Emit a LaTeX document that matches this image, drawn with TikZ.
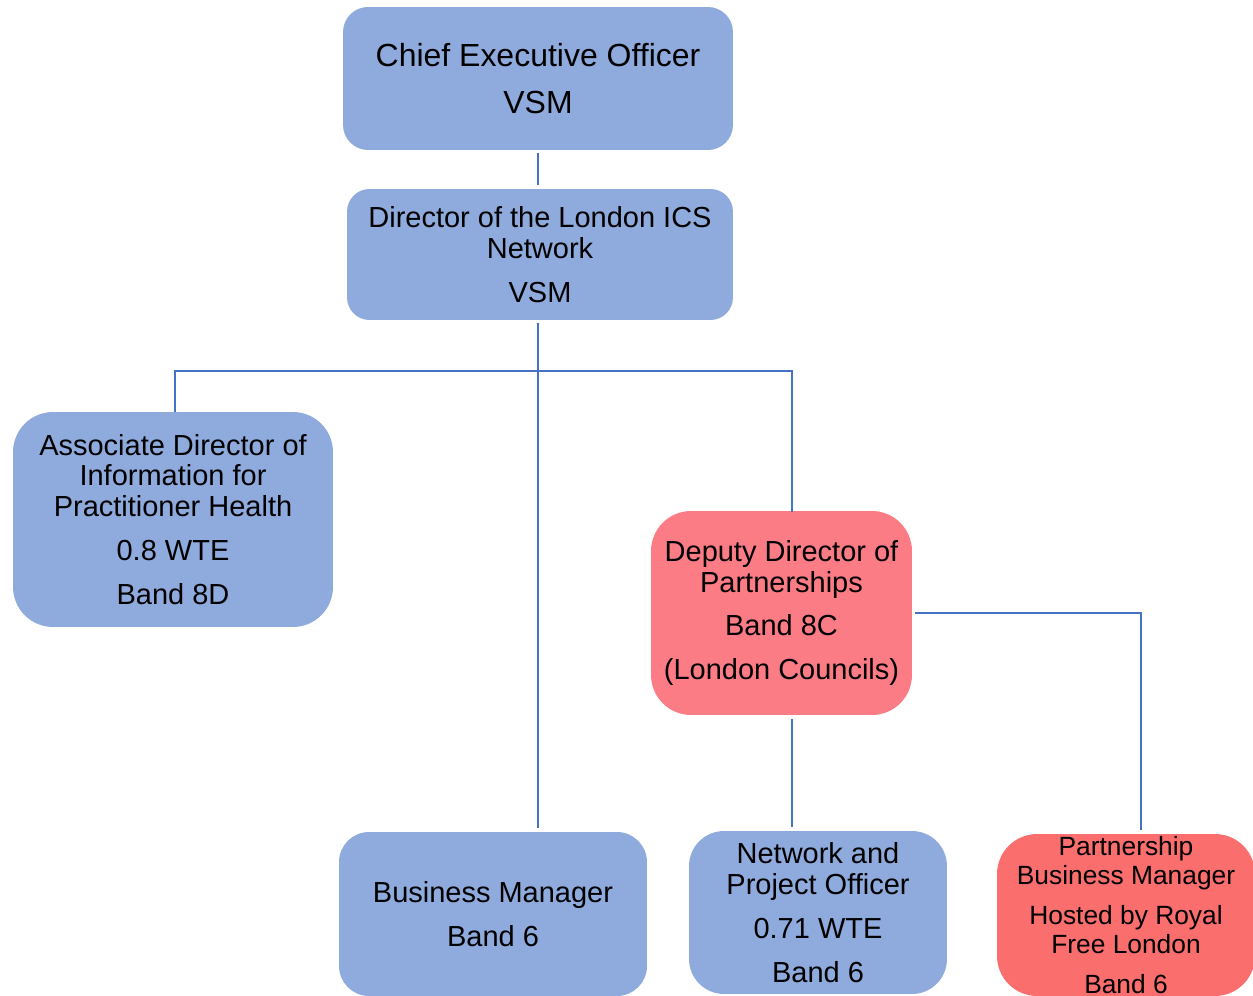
\documentclass[tikz,border=0pt]{standalone}
\usepackage{fontspec}
\setmainfont{Liberation Sans}
\definecolor{boxblue}{HTML}{8FAADC}
\definecolor{boxpink}{HTML}{FC7C86}
\definecolor{boxred}{HTML}{FA6E6E}
\definecolor{lineblue}{HTML}{4472C4}
\begin{document}
\begin{tikzpicture}[x=0.02cm,y=-0.02cm,
  box/.style={draw=none, align=center, inner sep=0pt, text=black,
    font=\fontsize{16.5}{17.6}\selectfont},
  bluebox/.style={box, fill=boxblue},
  link/.style={draw=lineblue, line width=0.6pt},
  trunk/.style={draw=lineblue, line width=1.1pt}]
\useasboundingbox (0,0) rectangle (1253,996);
\begin{scope}
\clip (0,0) rectangle (1253,996);
\node[bluebox, minimum width=7.8cm, minimum height=2.86cm, rounded corners=0.5cm,
  font=\fontsize{18.2}{19.5}\selectfont] (ceo) at (538,78.5)
  {Chief Executive Officer\\[7.2pt]VSM};
\node[bluebox, minimum width=7.72cm, minimum height=2.62cm, rounded corners=0.45cm] (dir) at (540,254.5)
  {Director of the London ICS\\Network\\[7.4pt]VSM};
\node[bluebox, minimum width=6.4cm, minimum height=4.3cm, rounded corners=0.8cm] (assoc) at (173,519.5)
  {Associate Director of\\Information for\\Practitioner Health\\[7.4pt]0.8 WTE\\[7.4pt]Band 8D};
\node[box, fill=boxpink, minimum width=5.22cm, minimum height=4.08cm, rounded corners=0.8cm] (dep) at (781.5,613)
  {Deputy Director of\\Partnerships\\[7.4pt]Band 8C\\[7.4pt](London Councils)};
\node[bluebox, minimum width=6.16cm, minimum height=3.28cm, rounded corners=0.6cm] (bm) at (493,914)
  {Business Manager\\[7.4pt]Band 6};
\node[bluebox, minimum width=5.16cm, minimum height=3.26cm, rounded corners=0.7cm] (net) at (818,912.5)
  {Network and\\Project Officer\\[7.4pt]0.71 WTE\\[7.4pt]Band 6};
\node[box, fill=boxred, minimum width=5.16cm, minimum height=3.24cm, rounded corners=0.8cm,
  font=\fontsize{15}{16.5}\selectfont] (part) at (1126,915)
  {Partnership\\Business Manager\\[6.3pt]Hosted by Royal\\Free London\\[6.3pt]Band 6};
\end{scope}
\coordinate (jl) at (175,371);
\coordinate (jr) at (792,371);
\coordinate (pr) at (1141,613);
\draw[link, shorten <=0.06cm, shorten >=0.08cm] (ceo.south) -- (ceo.south |- dir.north);
\draw[trunk, shorten <=0.06cm, shorten >=0.08cm] (ceo.south |- dir.south) -- (ceo.south |- bm.north);
\draw[link, shorten >=-0.1cm] (jr |- dep.north) ++(0,-4) coordinate (jre) (jl |- assoc.north) -- (jl) -- (jr) -- (jre);
\draw[link, shorten <=0.08cm, shorten >=0.08cm] (jr |- dep.south) -- (jr |- net.north);
\draw[link, shorten <=0.06cm, shorten >=0.08cm] (dep.east) -- (pr) -- (pr |- part.north);
\end{tikzpicture}
\end{document}
